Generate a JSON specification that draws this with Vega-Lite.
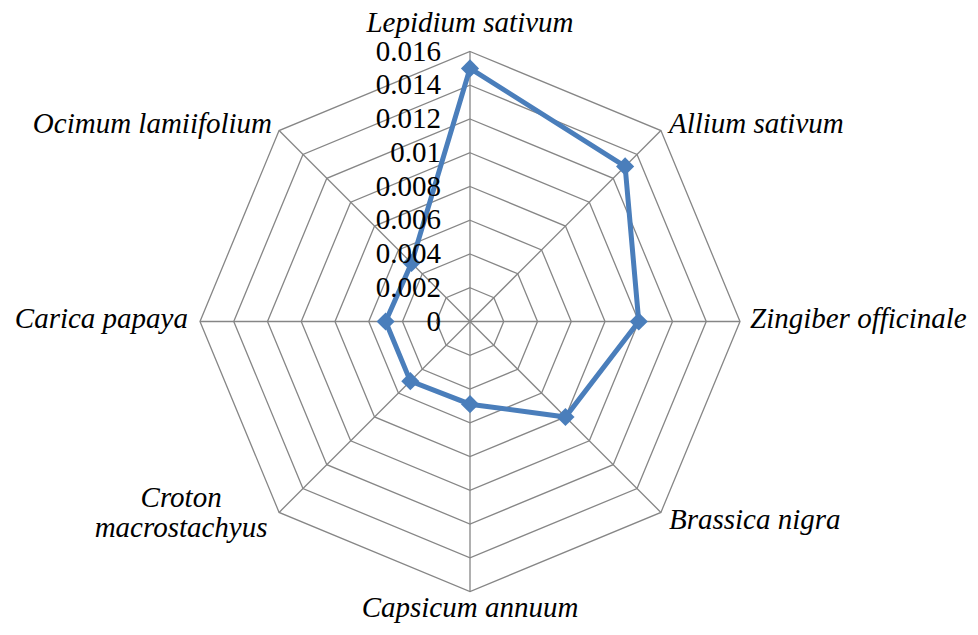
{
  "$schema": "https://vega.github.io/schema/vega-lite/v6.json",
  "width": 978,
  "height": 635,
  "autosize": {"type": "none"},
  "padding": 0,
  "background": "white",
  "config": {
    "view": {"stroke": null},
    "text": {"font": "serif", "fontSize": 29, "fill": "black"}
  },
  "datasets": {
    "species": [
      {"species": "Lepidium sativum", "i": 0, "value": 0.015},
      {"species": "Allium sativum", "i": 1, "value": 0.013},
      {"species": "Zingiber officinale", "i": 2, "value": 0.01},
      {"species": "Brassica nigra", "i": 3, "value": 0.008},
      {"species": "Capsicum annuum", "i": 4, "value": 0.0049},
      {"species": "Croton\nmacrostachyus", "i": 5, "value": 0.005},
      {"species": "Carica papaya", "i": 6, "value": 0.005},
      {"species": "Ocimum lamiifolium", "i": 7, "value": 0.0049}
    ],
    "levels": [
      {"level": 0, "i": []},
      {"level": 0.002, "i": [0, 1, 2, 3, 4, 5, 6, 7]},
      {"level": 0.004, "i": [0, 1, 2, 3, 4, 5, 6, 7]},
      {"level": 0.006, "i": [0, 1, 2, 3, 4, 5, 6, 7]},
      {"level": 0.008, "i": [0, 1, 2, 3, 4, 5, 6, 7]},
      {"level": 0.01, "i": [0, 1, 2, 3, 4, 5, 6, 7]},
      {"level": 0.012, "i": [0, 1, 2, 3, 4, 5, 6, 7]},
      {"level": 0.014, "i": [0, 1, 2, 3, 4, 5, 6, 7]},
      {"level": 0.016, "i": [0, 1, 2, 3, 4, 5, 6, 7]}
    ]
  },
  "encoding": {
    "x": {"field": "x", "type": "quantitative", "axis": null, "scale": {"domain": [-0.0278519, 0.0301037], "nice": false, "zero": false}},
    "y": {"field": "y", "type": "quantitative", "axis": null, "scale": {"domain": [-0.0185778, 0.0190519], "nice": false, "zero": false}}
  },
  "layer": [
    {
      "data": {"name": "levels"},
      "transform": [
        {"flatten": ["i"]},
        {"calculate": "datum.level * sin(datum.i * PI / 4)", "as": "x"},
        {"calculate": "datum.level * cos(datum.i * PI / 4)", "as": "y"}
      ],
      "mark": {"type": "line", "interpolate": "linear-closed", "stroke": "#868686", "strokeWidth": 1.3},
      "encoding": {
        "detail": {"field": "level", "type": "nominal"},
        "order": {"field": "i", "type": "quantitative"}
      }
    },
    {
      "data": {"name": "species"},
      "transform": [
        {"calculate": "0", "as": "x"},
        {"calculate": "0", "as": "y"},
        {"calculate": "0.016 * sin(datum.i * PI / 4)", "as": "x2"},
        {"calculate": "0.016 * cos(datum.i * PI / 4)", "as": "y2"}
      ],
      "mark": {"type": "rule", "stroke": "#868686", "strokeWidth": 1.3},
      "encoding": {
        "x2": {"field": "x2"},
        "y2": {"field": "y2"}
      }
    },
    {
      "data": {"name": "species"},
      "transform": [
        {"calculate": "datum.value * sin(datum.i * PI / 4)", "as": "x"},
        {"calculate": "datum.value * cos(datum.i * PI / 4)", "as": "y"}
      ],
      "mark": {"type": "line", "interpolate": "linear-closed", "stroke": "#4A7EBB", "strokeWidth": 5},
      "encoding": {
        "order": {"field": "i", "type": "quantitative"}
      }
    },
    {
      "data": {"name": "species"},
      "transform": [
        {"calculate": "datum.value * sin(datum.i * PI / 4)", "as": "x"},
        {"calculate": "datum.value * cos(datum.i * PI / 4)", "as": "y"}
      ],
      "mark": {"type": "point", "shape": "diamond", "filled": true, "size": 330, "fill": "#4A7EBB", "opacity": 1, "strokeWidth": 0}
    },
    {
      "data": {"name": "levels"},
      "transform": [
        {"calculate": "0", "as": "x"},
        {"calculate": "datum.level", "as": "y"}
      ],
      "mark": {"type": "text", "align": "right", "baseline": "middle", "dx": -29},
      "encoding": {"text": {"field": "level", "type": "nominal"}}
    },
    {
      "data": {"name": "species"},
      "transform": [
        {"filter": "datum.i == 0"},
        {"calculate": "0.016 * sin(datum.i * PI / 4)", "as": "x"},
        {"calculate": "0.016 * cos(datum.i * PI / 4)", "as": "y"}
      ],
      "mark": {"type": "text", "fontStyle": "italic", "align": "center", "baseline": "alphabetic", "dy": -20},
      "encoding": {"text": {"field": "species", "type": "nominal"}}
    },
    {
      "data": {"name": "species"},
      "transform": [
        {"filter": "datum.i == 1"},
        {"calculate": "0.016 * sin(datum.i * PI / 4)", "as": "x"},
        {"calculate": "0.016 * cos(datum.i * PI / 4)", "as": "y"}
      ],
      "mark": {"type": "text", "fontStyle": "italic", "align": "left", "baseline": "alphabetic", "dx": 8, "dy": 2},
      "encoding": {"text": {"field": "species", "type": "nominal"}}
    },
    {
      "data": {"name": "species"},
      "transform": [
        {"filter": "datum.i == 2"},
        {"calculate": "0.016 * sin(datum.i * PI / 4)", "as": "x"},
        {"calculate": "0.016 * cos(datum.i * PI / 4)", "as": "y"}
      ],
      "mark": {"type": "text", "fontStyle": "italic", "align": "left", "baseline": "alphabetic", "dx": 10, "dy": 6},
      "encoding": {"text": {"field": "species", "type": "nominal"}}
    },
    {
      "data": {"name": "species"},
      "transform": [
        {"filter": "datum.i == 3"},
        {"calculate": "0.016 * sin(datum.i * PI / 4)", "as": "x"},
        {"calculate": "0.016 * cos(datum.i * PI / 4)", "as": "y"}
      ],
      "mark": {"type": "text", "fontStyle": "italic", "align": "left", "baseline": "alphabetic", "dx": 8, "dy": 17},
      "encoding": {"text": {"field": "species", "type": "nominal"}}
    },
    {
      "data": {"name": "species"},
      "transform": [
        {"filter": "datum.i == 4"},
        {"calculate": "0.016 * sin(datum.i * PI / 4)", "as": "x"},
        {"calculate": "0.016 * cos(datum.i * PI / 4)", "as": "y"}
      ],
      "mark": {"type": "text", "fontStyle": "italic", "align": "center", "baseline": "alphabetic", "dy": 26},
      "encoding": {"text": {"field": "species", "type": "nominal"}}
    },
    {
      "data": {"name": "species"},
      "transform": [
        {"filter": "datum.i == 5"},
        {"calculate": "0.016 * sin(datum.i * PI / 4)", "as": "x"},
        {"calculate": "0.016 * cos(datum.i * PI / 4)", "as": "y"}
      ],
      "mark": {"type": "text", "fontStyle": "italic", "align": "center", "baseline": "alphabetic", "dx": -98, "dy": -5, "lineBreak": "\n", "lineHeight": 30},
      "encoding": {"text": {"field": "species", "type": "nominal"}}
    },
    {
      "data": {"name": "species"},
      "transform": [
        {"filter": "datum.i == 6"},
        {"calculate": "0.016 * sin(datum.i * PI / 4)", "as": "x"},
        {"calculate": "0.016 * cos(datum.i * PI / 4)", "as": "y"}
      ],
      "mark": {"type": "text", "fontStyle": "italic", "align": "right", "baseline": "alphabetic", "dx": -12, "dy": 6},
      "encoding": {"text": {"field": "species", "type": "nominal"}}
    },
    {
      "data": {"name": "species"},
      "transform": [
        {"filter": "datum.i == 7"},
        {"calculate": "0.016 * sin(datum.i * PI / 4)", "as": "x"},
        {"calculate": "0.016 * cos(datum.i * PI / 4)", "as": "y"}
      ],
      "mark": {"type": "text", "fontStyle": "italic", "align": "right", "baseline": "alphabetic", "dx": -7, "dy": 2},
      "encoding": {"text": {"field": "species", "type": "nominal"}}
    }
  ]
}
